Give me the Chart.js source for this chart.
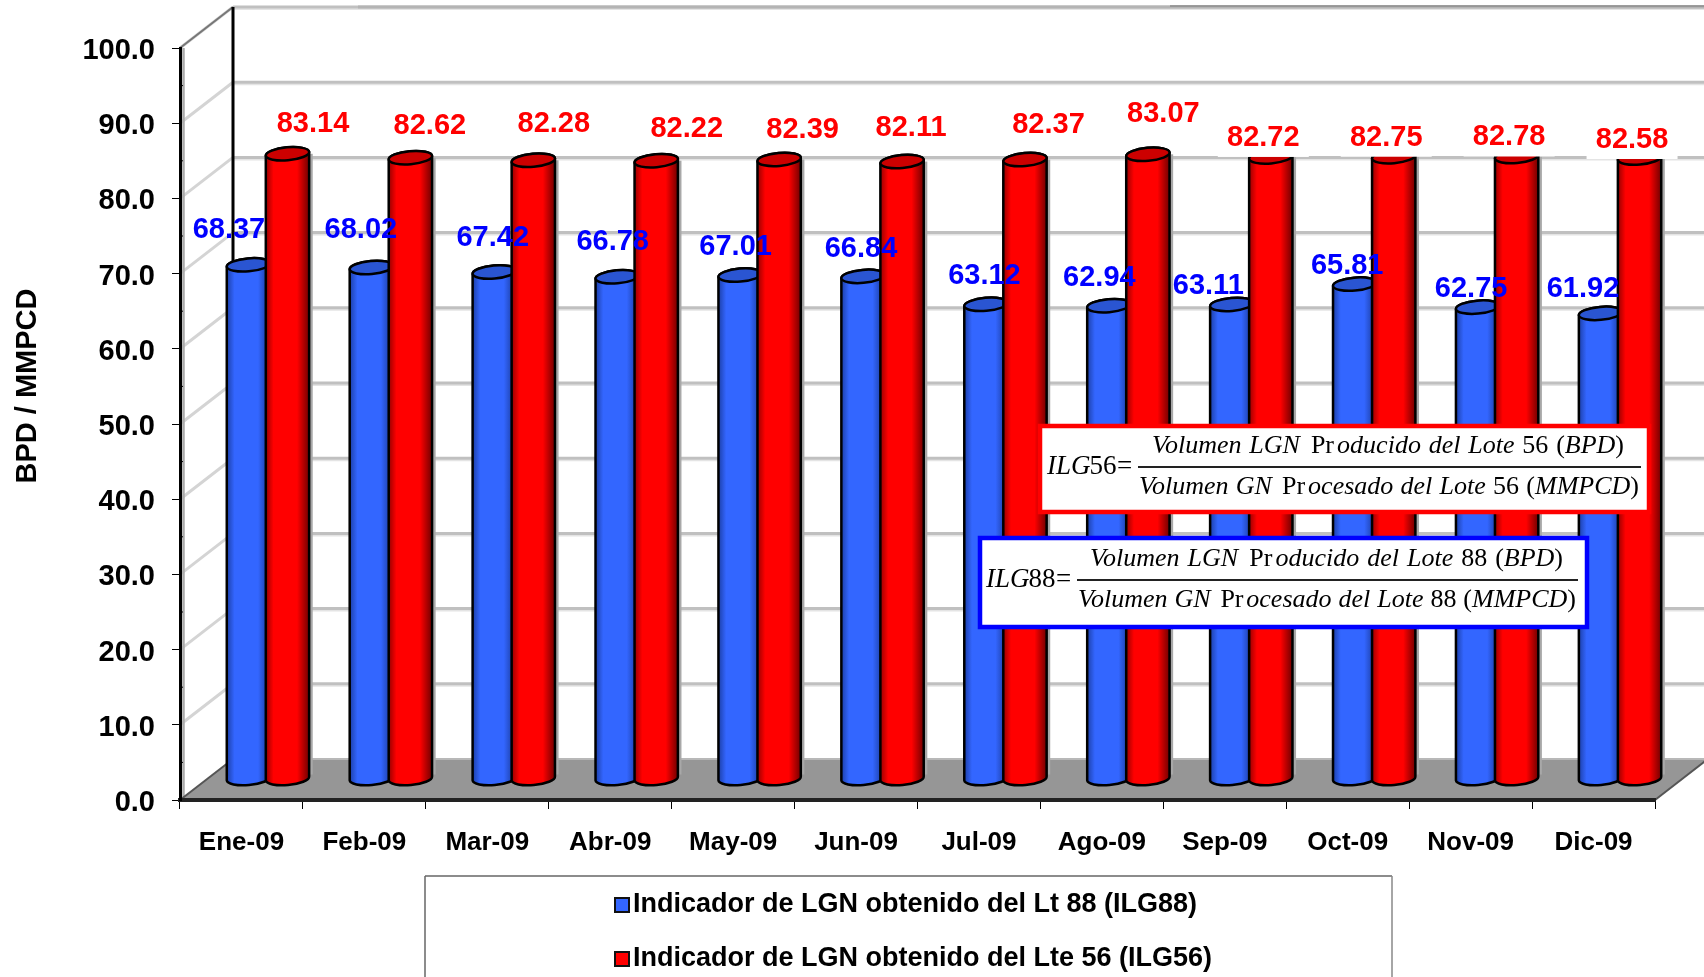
<!DOCTYPE html>
<html lang="es">
<head>
    <meta charset="UTF-8">
    <title>Indicador de LGN</title>
    <script src="https://cdn.jsdelivr.net/npm/chart.js"></script>
    <style>
        html, body { margin: 0; background: #fff; overflow: hidden; }
        canvas { display: block; }
    </style>
</head>
<body>
    <canvas id="lgnChart" width="1704" height="977"></canvas>
    <script>
const categories = ['Ene-09', 'Feb-09', 'Mar-09', 'Abr-09', 'May-09', 'Jun-09', 'Jul-09', 'Ago-09', 'Sep-09', 'Oct-09', 'Nov-09', 'Dic-09'];
const ilg88 = [68.37, 68.02, 67.42, 66.78, 67.01, 66.84, 63.12, 62.94, 63.11, 65.81, 62.75, 61.92];
const ilg56 = [83.14, 82.62, 82.28, 82.22, 82.39, 82.11, 82.37, 83.07, 82.72, 82.75, 82.78, 82.58];
const seriesNames = ['Indicador de LGN obtenido del Lt 88 (ILG88)', 'Indicador de LGN obtenido del Lte 56 (ILG56)'];

// hand placed data labels, offset from the top of each bar
const blueNudgeX = [7, 16, 25, 22, 22, 24.5, 25, 17, 3, 19, 20, 9];
const blueNudgeY = [-56, -58, -55, -56, -49, -48, -49, -49, -39, -39, -39, -45];
const redNudgeX = [52, 46, 47, 57, 50, 35.5, 50, 42, 19, 19, 19, 19];
const redNudgeY = [-51, -53, -57, -53, -50, -55, -56, -61, -40, -40, -40, -39];
const whiteBehind = [8, 9, 10, 11]; // red labels with a white box

const depthX = 53, depthY = -41;   // front plane to back wall
const barX = 26.5, barY = -21;     // front plane to the bars row
const boldFont = '"Liberation Sans", Arial, sans-serif';
const serifFont = '"Liberation Serif", "Times New Roman", serif';

function line(ctx, x1, y1, x2, y2, color, width) {
    ctx.strokeStyle = color;
    ctx.lineWidth = width;
    ctx.beginPath();
    ctx.moveTo(x1, y1);
    ctx.lineTo(x2, y2);
    ctx.stroke();
}

// walls, gridlines and floor of the fake 3d box
const box3d = {
    id: 'box3d',
    beforeDraw(chart) {
        const { ctx, chartArea: a, scales: { y } } = chart;
        const backL = a.left + depthX;
        ctx.save();
        [10, 20, 30, 40, 50, 60, 70, 80, 90, 100].forEach(v => {
            const py = y.getPixelForValue(v);
            line(ctx, backL, py + depthY + 2, 1704, py + depthY + 2, '#e4e4e4', 2);
            line(ctx, backL, py + depthY, 1704, py + depthY, '#c0c0c0', 3);
            line(ctx, a.left, py, backL, py + depthY, '#d4d4d4', 3);
        });
        const topY = y.getPixelForValue(100) + depthY;
        line(ctx, 358, topY, 1704, topY, '#b4b4b4', 3);
        line(ctx, 1170, topY - 1, 1704, topY - 1, '#8c8c8c', 1.5);
        line(ctx, a.left, y.getPixelForValue(100), backL, topY, '#777', 2);
        line(ctx, backL, topY, backL, a.bottom + depthY, '#000', 3);
        line(ctx, a.left + 3.5, a.top, a.left + 3.5, a.bottom, '#aaa', 2.5);

        ctx.fillStyle = '#969696';
        ctx.beginPath();
        ctx.moveTo(a.left, a.bottom);
        ctx.lineTo(a.right, a.bottom);
        ctx.lineTo(a.right + depthX, a.bottom + depthY);
        ctx.lineTo(backL, a.bottom + depthY);
        ctx.closePath();
        ctx.fill();
        line(ctx, backL, a.bottom + depthY, a.right + depthX, a.bottom + depthY, '#b8b8b8', 2);
        line(ctx, a.left, a.bottom, backL, a.bottom + depthY, '#555', 2);
        line(ctx, a.right, a.bottom, a.right + depthX, a.bottom + depthY, '#555', 2);
        // minor ticks on the value axis
        [5, 15, 25, 35, 45, 55, 65, 75, 85, 95].forEach(v => {
            const py = y.getPixelForValue(v);
            line(ctx, a.left, py, a.left + 3, py, '#000', 1);
        });
        ctx.restore();
    }
};

// the bars are drawn as cylinders from the bar elements, blue first so red sits on top
const cylinders = {
    id: 'cylinders',
    beforeDatasetDraw() {
        return false;
    },
    beforeDatasetsDraw(chart) {
        const ctx = chart.ctx;
        const tilt = -5 * Math.PI / 180;
        ctx.save();
        [0, 1].forEach(d => {
            const shades = d === 0
                ? ['#1c3fa8', '#3366ff', '#3366ff', '#16348c', '#2a55d2']
                : ['#980000', '#ff0000', '#ff0000', '#700000', '#cc0000'];
            chart.getDatasetMeta(d).data.forEach(bar => {
                const cx = bar.x + barX;
                const top = bar.y + barY;
                const base = bar.base + barY;
                const r = bar.width / 2;
                const ry = 6.5;
                const grad = ctx.createLinearGradient(cx - r, 0, cx + r, 0);
                grad.addColorStop(0, shades[0]);
                grad.addColorStop(0.18, shades[1]);
                grad.addColorStop(0.72, shades[2]);
                grad.addColorStop(1, shades[3]);

                ctx.fillStyle = '#a8a8a8';
                ctx.fillRect(cx + r, top, 3.5, base - top - 4);

                ctx.beginPath();
                ctx.ellipse(cx, base, r, ry, tilt, 0, Math.PI);
                ctx.ellipse(cx, top, r, ry, tilt, Math.PI, 0);
                ctx.closePath();
                ctx.fillStyle = grad;
                ctx.fill();
                ctx.strokeStyle = '#000';
                ctx.lineWidth = 2.5;
                ctx.stroke();

                ctx.beginPath();
                ctx.ellipse(cx, top, r, ry, tilt, 0, Math.PI * 2);
                ctx.fillStyle = shades[4];
                ctx.fill();
                ctx.stroke();
            });
        });
        ctx.restore();
    }
};

function drawRuns(ctx, runs, left, width, y, size) {
    // words are spread over the given width, third value is the share of gap before a word
    const fontOf = r => (r[1] ? 'italic ' : '') + size + 'px ' + serifFont;
    let used = 0, shares = 0;
    runs.forEach(r => {
        ctx.font = fontOf(r);
        used += ctx.measureText(r[0]).width;
        shares += r[2];
    });
    const gap = (width - used) / shares;
    let x = left;
    runs.forEach(r => {
        x += gap * r[2];
        ctx.font = fontOf(r);
        ctx.fillText(r[0], x, y);
        x += ctx.measureText(r[0]).width;
    });
}

function equation(ctx, b, lote) {
    ctx.fillStyle = '#fff';
    ctx.fillRect(b.x, b.y, b.w, b.h);
    ctx.strokeStyle = b.color;
    ctx.lineWidth = 4.5;
    ctx.strokeRect(b.x, b.y, b.w, b.h);
    ctx.fillStyle = '#000';
    ctx.textAlign = 'left';
    ctx.textBaseline = 'middle';
    ctx.font = 'italic 27px ' + serifFont;
    ctx.fillText('ILG', b.nameX, b.lineY);
    const nameW = ctx.measureText('ILG').width;
    ctx.font = '27px ' + serifFont;
    ctx.fillText(lote, b.nameX + nameW - 1, b.lineY);
    ctx.fillText('=', b.eqX, b.lineY);
    line(ctx, b.lineX, b.lineY, b.lineX + b.lineW, b.lineY, '#222', 2);
    drawRuns(ctx, [['Volumen', 1, 0], ['LGN', 1, 1], ['Pr', 0, 1.4], ['oducido', 1, 0.4], ['del', 1, 1], ['Lote', 1, 1], [lote, 0, 1], ['(', 0, 1], ['BPD', 1, 0], [')', 0, 0]],
        b.numX, b.numW, b.lineY - 21, 26);
    drawRuns(ctx, [['Volumen', 1, 0], ['GN', 1, 1], ['Pr', 0, 1.4], ['ocesado', 1, 0.4], ['del', 1, 1], ['Lote', 1, 1], [lote, 0, 1], ['(', 0, 1], ['MMPCD', 1, 0], [')', 0, 0]],
        b.denX, b.denW, b.lineY + 20, 26);
}

// data labels, axis title, legend and the two formulas
const overlays = {
    id: 'overlays',
    afterDatasetsDraw(chart) {
        const ctx = chart.ctx;
        ctx.save();
        ctx.textAlign = 'center';
        ctx.textBaseline = 'middle';
        ctx.font = 'bold 29px ' + boldFont;
        chart.getDatasetMeta(1).data.forEach((bar, i) => {
            const lx = bar.x + redNudgeX[i];
            const ly = bar.y + redNudgeY[i];
            if (whiteBehind.includes(i)) {
                ctx.fillStyle = '#fff';
                ctx.fillRect(lx - 45.5, ly - 22, 91, 41);
            }
            ctx.fillStyle = '#ff0000';
            ctx.fillText(ilg56[i].toFixed(2), lx, ly);
        });
        chart.getDatasetMeta(0).data.forEach((bar, i) => {
            ctx.fillStyle = '#0000ff';
            ctx.fillText(ilg88[i].toFixed(2), bar.x + blueNudgeX[i], bar.y + blueNudgeY[i]);
        });

        equation(ctx, { x: 1040, y: 426, w: 609, h: 86, color: '#ff0000', nameX: 1047, eqX: 1117, lineY: 467,
            lineX: 1138, lineW: 503, numX: 1152, numW: 472, denX: 1139, denW: 500 }, '56');
        equation(ctx, { x: 980, y: 538, w: 607, h: 89, color: '#0000ff', nameX: 986, eqX: 1056, lineY: 580,
            lineX: 1077, lineW: 501, numX: 1090, numW: 473, denX: 1078, denW: 498 }, '88');

        // axis title
        ctx.save();
        ctx.translate(28, 386);
        ctx.rotate(-Math.PI / 2);
        ctx.textAlign = 'center';
        ctx.fillStyle = '#000';
        ctx.font = 'bold 29px ' + boldFont;
        ctx.fillText('BPD / MMPCD', 0, 0);
        ctx.restore();

        // legend
        ctx.fillStyle = '#fff';
        ctx.fillRect(425, 876, 967, 110);
        line(ctx, 425, 876, 1392, 876, '#666', 1.5);
        line(ctx, 425, 876, 425, 977, '#666', 1.5);
        line(ctx, 1392, 876, 1392, 977, '#888', 1.5);
        ctx.textAlign = 'left';
        ctx.font = 'bold 27px ' + boldFont;
        chart.data.datasets.forEach((ds, i) => {
            const ly = 905 + i * 54;
            ctx.fillStyle = ds.backgroundColor;
            ctx.fillRect(615, ly - 7, 14, 14);
            ctx.strokeStyle = '#111';
            ctx.lineWidth = 2;
            ctx.strokeRect(615, ly - 7, 14, 14);
            ctx.fillStyle = '#000';
            ctx.fillText(ds.label, 633, ly);
        });
        ctx.restore();
    }
};

new Chart(document.getElementById('lgnChart'), {
    type: 'bar',
    data: {
        labels: categories,
        datasets: [
            { label: seriesNames[0], data: ilg88, backgroundColor: '#3366ff' },
            { label: seriesNames[1], data: ilg56, backgroundColor: '#ff0000' }
        ]
    },
    options: {
        responsive: false,
        animation: false,
        events: [],
        datasets: { bar: { categoryPercentage: 0.635, barPercentage: 1.115 } },
        layout: { padding: { top: 48, right: 49, bottom: 0, left: 0 } },
        plugins: { legend: { display: false }, tooltip: { enabled: false } },
        scales: {
            x: {
                afterFit(scale) { scale.height = 177; },
                border: { color: '#222', width: 4 },
                grid: { drawOnChartArea: false, color: '#000', tickLength: 9 },
                ticks: { color: '#000', padding: 18, maxRotation: 0, font: { family: boldFont, size: 26, weight: 'bold' } }
            },
            y: {
                min: 0,
                max: 100,
                afterFit(scale) { scale.width = 180; },
                border: { color: '#000', width: 3 },
                grid: { drawOnChartArea: false, color: '#000', tickLength: 8 },
                ticks: {
                    stepSize: 10,
                    color: '#000',
                    padding: 17,
                    labelOffset: 3,
                    callback: v => v.toFixed(1),
                    font: { family: boldFont, size: 29, weight: 'bold' }
                }
            }
        }
    },
    plugins: [box3d, cylinders, overlays]
});
    </script>
</body>
</html>
